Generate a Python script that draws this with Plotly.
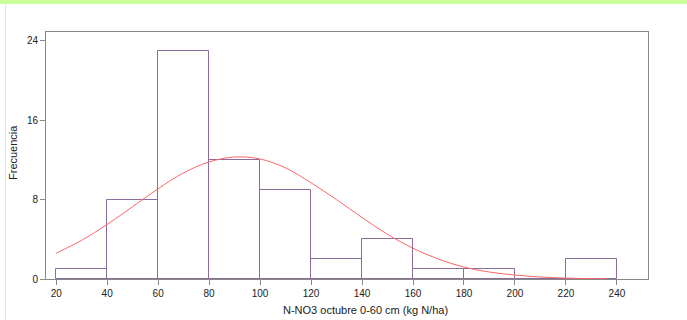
import plotly.graph_objects as go

# Histogram bins (left edges) and counts
bin_left = [20, 40, 60, 80, 100, 120, 140, 160, 180, 200, 220]
counts = [1, 8, 23, 12, 9, 2, 4, 1, 1, 0, 2]
bin_width = 20

# Fitted normal curve
curve_x = [20, 30, 40, 50, 60, 70, 80, 90, 100, 110, 120, 130, 140, 150, 160,
           170, 180, 190, 200, 210, 220, 230, 236]
curve_y = [2.6, 3.9, 5.5, 7.3, 9.1, 10.7, 11.8, 12.3, 12.1, 11.2, 9.7, 8.0, 6.2,
           4.5, 3.1, 2.0, 1.2, 0.7, 0.4, 0.2, 0.09, 0.04, 0.03]

x_ticks = [20, 40, 60, 80, 100, 120, 140, 160, 180, 200, 220, 240]
y_ticks = [0, 8, 16, 24]

centers = [b + bin_width / 2 for b in bin_left]

fig = go.Figure()
fig.add_trace(go.Bar(
    x=centers, y=counts, width=[bin_width] * len(counts),
    marker=dict(color="rgba(255,255,255,0)", line=dict(color="#8a6c9a", width=1)),
    showlegend=False, hoverinfo="skip",
))
fig.add_trace(go.Scatter(
    x=curve_x, y=curve_y, mode="lines", line=dict(color="#ff6666", width=1, shape="spline"),
    showlegend=False, hoverinfo="skip",
))

L, R, T, B = 46, 39, 32, 41
W, H = 687, 320
pw, ph = W - L - R, H - T - B

fig.update_layout(
    width=W, height=H,
    margin=dict(l=L, r=R, t=T, b=B),
    paper_bgcolor="white", plot_bgcolor="white",
    font=dict(family="Liberation Sans, Arial, sans-serif", size=10, color="#222222"),
    bargap=0,
    shapes=[
        dict(type="rect", xref="paper", yref="paper",
             x0=-L / pw, x1=1 + R / pw, y0=1 + (T - 4) / ph, y1=1 + T / ph,
             fillcolor="#ccff99", line=dict(width=0), layer="below"),
        dict(type="line", xref="paper", yref="paper",
             x0=(5.5 - L) / pw, x1=(5.5 - L) / pw, y0=-B / ph, y1=1 + (T - 4) / ph,
             line=dict(color="#ccff99", width=1), layer="below"),
    ],
    annotations=[
        dict(text="N-NO3 octubre 0-60 cm (kg N/ha)", xref="paper", yref="paper",
             x=(365 - L) / pw, y=-(310 - (T + ph)) / ph, xanchor="center", yanchor="middle",
             showarrow=False, font=dict(size=11)),
        dict(text="Frecuencia", xref="paper", yref="paper", textangle=-90,
             x=(13 - L) / pw, y=1 - (153 - T) / ph, xanchor="center", yanchor="middle",
             showarrow=False, font=dict(size=11)),
    ],
)
fig.update_xaxes(
    range=[16, 252.2], tickvals=x_ticks, ticktext=[str(v) for v in x_ticks],
    showgrid=False, zeroline=False, showline=True, linecolor="#888888", linewidth=1,
    mirror=True, ticks="outside", ticklen=5, tickcolor="#888888",
    tickfont=dict(size=10), automargin=False,
)
fig.update_yaxes(
    range=[0, 24.9], tickvals=y_ticks, ticktext=[str(v) for v in y_ticks],
    showgrid=False, zeroline=False, showline=True, linecolor="#888888", linewidth=1,
    mirror=True, ticks="outside", ticklen=5, tickcolor="#888888",
    tickfont=dict(size=10), automargin=False,
)

fig.write_html("out.html")
